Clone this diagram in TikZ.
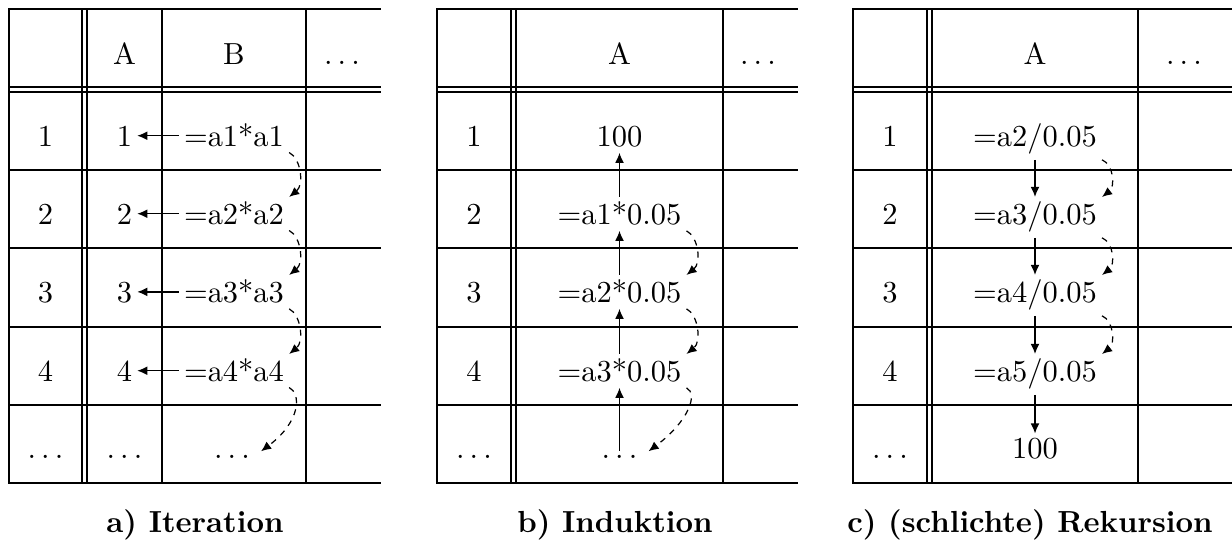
\documentclass[tikz,border=0pt]{standalone}
\usetikzlibrary{arrows.meta}
\newcommand\celldots{$\ldots$}
\begin{document}
\begin{tikzpicture}[x=0.328pt,y=-0.328pt,
  grid/.style={line width=0.85pt,line cap=rect},
  cell/.style={anchor=base,inner sep=1.5pt},
  arr/.style={-{Latex[length=3.3pt,width=2.9pt]},line width=0.4pt},
  dasharr/.style={-{Latex[length=3.3pt,width=2.9pt]},line width=0.4pt,dash pattern=on 2pt off 2pt},
  captext/.style={anchor=base,font=\bfseries}]
\useasboundingbox (0,0) rectangle (1232,545);
% ---------- grids ----------
\foreach \y in {9,87,92,170,248,327,405,483} {
  \draw[grid] (9,\y) -- (380,\y);
  \draw[grid] (437,\y) -- (797,\y);
  \draw[grid] (853,\y) -- (1232,\y);
}
\foreach \x in {9,82,87,162,306,437,511,516,723,853,927,932,1138}
  \draw[grid] (\x,9) -- (\x,483);
% ---------- table a ----------
\node[cell] (aHA) at (124.5,65) {A};
\node[cell] (aHB) at (234,65) {B};
\node[cell] (aHd) at (342,65) {\celldots};
\foreach \i/\b in {1/147,2/225,3/303,4/382} {
  \node[cell] (aR\i) at (45.5,\b) {\i};
  \node[cell] (aA\i) at (124.5,\b) {\i};
  \node[cell] (aB\i) at (234,\b) {=a\i*a\i};
}
\node[cell] (aR5) at (45.5,459) {\celldots};
\node[cell] (aA5) at (124.5,459) {\celldots};
\node[cell] (aB5) at (232,459) {\celldots};
\foreach \i in {1,2,3,4}
  \draw[arr] (aB\i.west) -- (aB\i.west -| aA\i.east);
\foreach \i/\j in {1/2,2/3,3/4}
  \draw[dasharr] (aB\i.south east) .. controls +(12,6) and +(15,-12) .. (aB\j.north east);
\draw[dasharr] (aB4.south east) .. controls +(12,6) and +(40,-30) .. ([xshift=2pt,yshift=2pt]aB5.east);
% ---------- table b ----------
\node[cell] (bHA) at (619.5,65) {A};
\node[cell] (bHd) at (758,65) {\celldots};
\node[cell] (bR1) at (474,147) {1};
\node[cell] (bR2) at (474,225) {2};
\node[cell] (bR3) at (474,303) {3};
\node[cell] (bR4) at (474,382) {4};
\node[cell] (bR5) at (474,459) {\celldots};
\node[cell] (bA1) at (619.5,147) {100};
\node[cell] (bA2) at (619.5,225) {=a1*0.05};
\node[cell] (bA3) at (619.5,303) {=a2*0.05};
\node[cell] (bA4) at (619.5,382) {=a3*0.05};
\node[cell] (bA5) at (619.5,459) {\celldots};
\foreach \i/\j in {5/4,4/3,3/2,2/1}
  \draw[arr] (bA\i.north) -- (bA\j.south);
\foreach \i/\j in {2/3,3/4}
  \draw[dasharr] (bA\i.south east) .. controls +(12,6) and +(15,-12) .. (bA\j.north east);
\draw[dasharr] (bA4.south east) .. controls +(12,6) and +(40,-30) .. ([xshift=2pt,yshift=2pt]bA5.east);
% ---------- table c ----------
\node[cell] (cHA) at (1035,65) {A};
\node[cell] (cHd) at (1184,65) {\celldots};
\node[cell] (cR1) at (890,147) {1};
\node[cell] (cR2) at (890,225) {2};
\node[cell] (cR3) at (890,303) {3};
\node[cell] (cR4) at (890,382) {4};
\node[cell] (cR5) at (890,459) {\celldots};
\node[cell] (cA1) at (1035,147) {=a2/0.05};
\node[cell] (cA2) at (1035,225) {=a3/0.05};
\node[cell] (cA3) at (1035,303) {=a4/0.05};
\node[cell] (cA4) at (1035,382) {=a5/0.05};
\node[cell] (cA5) at (1035,459) {100};
\foreach \i/\j in {1/2,2/3,3/4,4/5}
  \draw[arr] (cA\i.south) -- (cA\j.north);
\foreach \i/\j in {1/2,2/3,3/4}
  \draw[dasharr] (cA\i.south east) .. controls +(12,5) and +(13,-10) .. (cA\j.north east);
% ---------- captions ----------
\node[captext] (capa) at (195,533) {a) Iteration};
\node[captext] (capb) at (615,533) {b) Induktion};
\node[captext] (capc) at (1030,533) {c) (schlichte) Rekursion};
\end{tikzpicture}
\end{document}
